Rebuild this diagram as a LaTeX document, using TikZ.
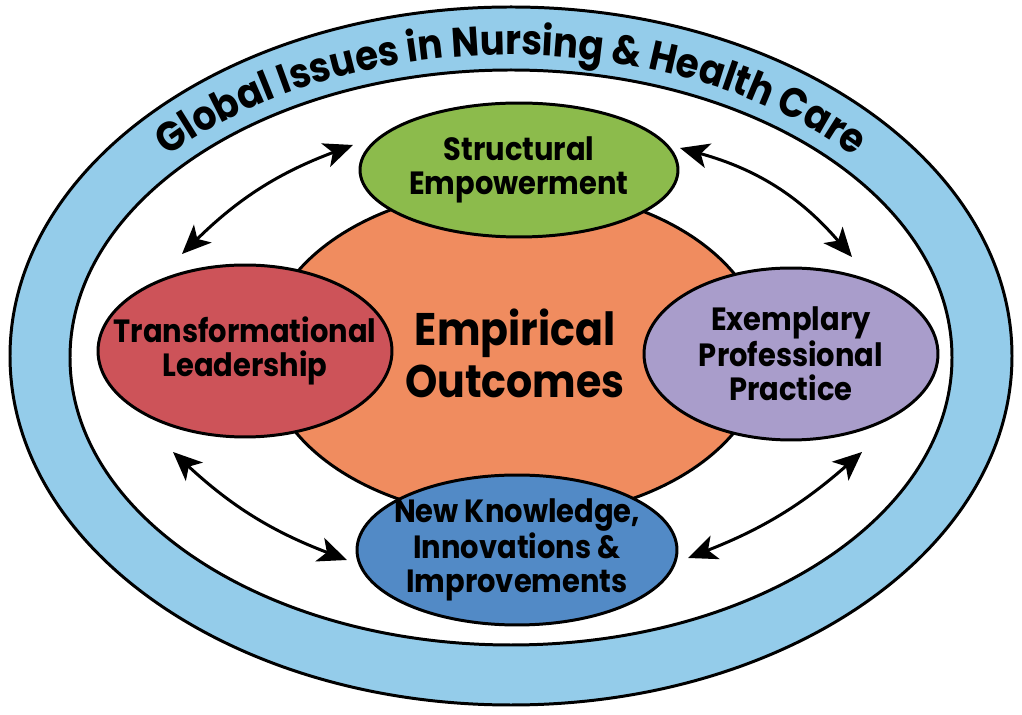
\documentclass[tikz,border=0pt]{standalone}
\usepackage{fontspec}
\setmainfont{Poppins}[FakeStretch=0.9]
\usepackage{xcolor}
\definecolor{anillo}{HTML}{94CCEA}
\definecolor{verde}{HTML}{8CBB4C}
\definecolor{naranja}{HTML}{F08C5F}
\definecolor{rojo}{HTML}{CD5359}
\definecolor{lila}{HTML}{A99DCB}
\definecolor{azul}{HTML}{528AC6}
\usepackage{tikz}
\usetikzlibrary{arrows.meta,shapes.geometric,decorations.text}

\begin{document}
\begin{tikzpicture}[x=0.02cm, y=0.02cm,
      ovalo/.style={ellipse, draw, line width=1.7pt, inner sep=0pt},
      etiqueta/.style={align=center, font=\bfseries\fontsize{18.3}{19.2}\selectfont},
      flechadoble/.style={{Stealth[length=5.8mm, width=5mm, inset=1.5mm]}-{Stealth[length=5.8mm, width=5mm, inset=1.5mm]}, line width=1.7pt}
    ]
    \useasboundingbox (0,0) rectangle (1022,-715);
    % anillo exterior
    \draw[line width=1.7pt, fill=anillo] (511,-356) ellipse [x radius=501, y radius=349];
    \draw[line width=1.7pt, fill=white] (511,-357.5) ellipse [x radius=441, y radius=287.5];
    \path[decorate, decoration={text along path, text align=center,
        text={|\bfseries\fontsize{23.5}{23.5}\selectfont|Global Issues in Nursing {\&} Health Care}}]
      (511,-357) ++(160:458 and 302) arc[start angle=160, end angle=20, x radius=458, y radius=302];
    % centro y componentes
    \node[ovalo, fill=naranja, minimum width=10cm, minimum height=6.6cm,
          align=center, font=\bfseries\fontsize{26}{29.5}\selectfont] (centro) at (515,-353) {Empirical\\Outcomes};
    \node[ovalo, fill=verde, minimum width=6.36cm, minimum height=2.68cm,
          label={[etiqueta]center:Structural\\Empowerment}] (estructural) at (519,-170) {};
    \node[ovalo, fill=rojo, minimum width=5.88cm, minimum height=3.44cm,
          label={[etiqueta]center:Transformational\\Leadership}] (liderazgo) at (245,-351) {};
    \node[ovalo, fill=lila, minimum width=5.88cm, minimum height=3.44cm,
          label={[etiqueta]center:Exemplary\\Professional\\Practice}] (practica) at (791,-354) {};
    \node[ovalo, fill=azul, minimum width=6.4cm, minimum height=3cm,
          label={[etiqueta]center:New Knowledge,\\Innovations \&\\Improvements}] (conocimiento) at (517,-550) {};
    % extremos libres de las flechas
    \coordinate (f1a) at ([shift={(-63,97)}]liderazgo.center);
    \coordinate (f1b) at ([shift={(-166,25)}]estructural.center);
    \coordinate (f2a) at ([shift={(161,22)}]estructural.center);
    \coordinate (f2b) at ([shift={(61,97)}]practica.center);
    \coordinate (f3a) at ([shift={(-72,-101)}]liderazgo.center);
    \coordinate (f3b) at ([shift={(-170,-10)}]conocimiento.center);
    \coordinate (f4a) at ([shift={(171,-8)}]conocimiento.center);
    \coordinate (f4b) at ([shift={(71,-98)}]practica.center);
    % flechas
    \draw[flechadoble] (f1a) to[bend left=12] (f1b);
    \draw[flechadoble] (f2a) to[bend left=17] (f2b);
    \draw[flechadoble] (f3a) to[bend right=11] (f3b);
    \draw[flechadoble] (f4a) to[bend right=10] (f4b);
\end{tikzpicture}
\end{document}
